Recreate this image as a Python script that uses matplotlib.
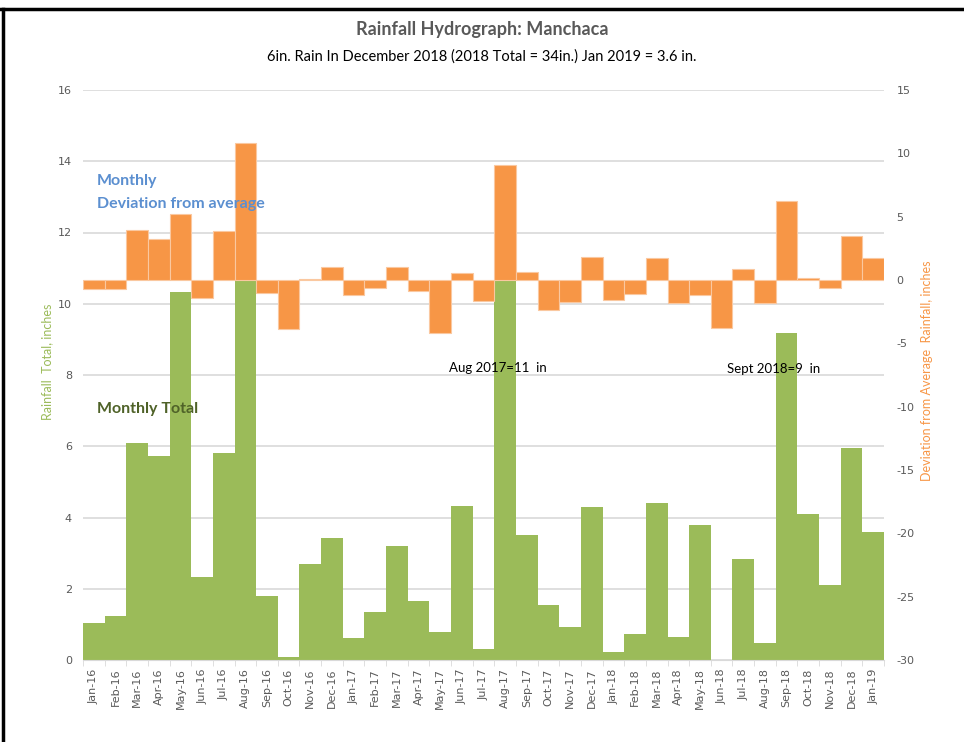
import matplotlib
matplotlib.use("Agg")
import matplotlib.pyplot as plt
import numpy as np
from matplotlib.lines import Line2D

plt.rcParams["axes.unicode_minus"] = False

# monthly values, Jan-16 .. Jan-19
months = ["Jan-16", "Feb-16", "Mar-16", "Apr-16", "May-16", "Jun-16", "Jul-16", "Aug-16",
          "Sep-16", "Oct-16", "Nov-16", "Dec-16", "Jan-17", "Feb-17", "Mar-17", "Apr-17",
          "May-17", "Jun-17", "Jul-17", "Aug-17", "Sep-17", "Oct-17", "Nov-17", "Dec-17",
          "Jan-18", "Feb-18", "Mar-18", "Apr-18", "May-18", "Jun-18", "Jul-18", "Aug-18",
          "Sep-18", "Oct-18", "Nov-18", "Dec-18", "Jan-19"]

monthly_total = [1.04, 1.24, 6.1, 5.73, 10.34, 2.33, 5.81, 13.1,
                 1.8, 0.08, 2.7, 3.43, 0.62, 1.35, 3.2, 1.66,
                 0.79, 4.33, 0.3, 11.3, 3.51, 1.54, 0.93, 4.3,
                 0.22, 0.73, 4.41, 0.65, 3.79, 0.0, 2.84, 0.48,
                 9.18, 4.1, 2.1, 5.95, 3.6]

deviation = [-0.74, -0.68, 3.95, 3.24, 5.2, -1.4, 3.9, 10.8,
             -1.02, -3.87, 0.1, 1.05, -1.2, -0.6, 1.05, -0.85,
             -4.2, 0.53, -1.65, 9.1, 0.63, -2.37, -1.74, 1.85,
             -1.55, -1.1, 1.7, -1.84, -1.2, -3.77, 0.85, -1.84,
             6.2, 0.18, -0.6, 3.5, 1.7]

GREEN = "#9BBB59"
ORANGE = "#F79646"
GRAY = "#595959"
CAL = ["Lato", "DejaVu Sans"]

fig = plt.figure(figsize=(9.64, 7.42), dpi=100)
ax = fig.add_axes([83 / 964, 1 - 660 / 742, (884 - 83) / 964, (660 - 90) / 742])
ax2 = ax.twinx()

x = np.arange(len(months))
ax.bar(x, monthly_total, width=1.0, color=GREEN, zorder=2)
ax2.bar(x, deviation, width=1.0, color=ORANGE, edgecolor="#FAC8A0", linewidth=0.8, zorder=2)

ax.set_xlim(-0.5, len(months) - 0.5)
ax.set_ylim(0, 16)
ax.set_yticks(np.arange(0, 17, 2))
ax2.set_ylim(-30, 15)
ax2.set_yticks(np.arange(-30, 16, 5))

ax.grid(axis="y", color="#D9D9D9", linewidth=1.2)
ax.set_axisbelow(True)

ax.set_xticks(x)
ax.set_xticklabels(months, rotation=90)
ax.set_xticks(np.arange(-0.5, len(months), 1), minor=True)
ax.tick_params(axis="x", which="major", length=0, pad=6, labelsize=8, labelcolor=GRAY)
ax.tick_params(axis="x", which="minor", length=4, color="#D9D9D9")
ax.tick_params(axis="y", length=0, pad=8, labelsize=8, labelcolor=GRAY)
ax2.tick_params(axis="y", length=0, pad=9, labelsize=8, labelcolor=GRAY)

for a in (ax, ax2):
    for s in ("top", "left", "right"):
        a.spines[s].set_visible(False)
ax.spines["bottom"].set_color("#D9D9D9")
ax2.spines["bottom"].set_visible(False)

ax.set_ylabel("Rainfall  Total, inches", color=GREEN, fontsize=9, family=CAL)
ax.yaxis.set_label_coords(-0.037, 0.523)
ax2.set_ylabel("Deviation from Average  Rainfall, inches", color=ORANGE, fontsize=9,
               family=CAL)
ax2.yaxis.set_label_coords(1.046, 0.507)

fig.text(0.5, 1 - 30 / 742, "Rainfall Hydrograph: Manchaca", ha="center", va="center",
         fontsize=13, fontweight="bold", color=GRAY, family=CAL)
fig.text(0.5, 1 - 57 / 742, "6in. Rain In December 2018 (2018 Total = 34in.) Jan 2019 = 3.6 in.",
         ha="center", va="center", fontsize=10.5, color="black", family=CAL)

fig.text(97 / 964, 1 - 181 / 742, "Monthly", ha="left", va="center", fontsize=11.5,
         fontweight="bold", color="#5B8FD0", family=CAL)
fig.text(97 / 964, 1 - 204 / 742, "Deviation from average", ha="left", va="center",
         fontsize=11.5, fontweight="bold", color="#5B8FD0", family=CAL)
fig.text(97 / 964, 1 - 409 / 742, "Monthly Total", ha="left", va="center", fontsize=11.5,
         fontweight="bold", color="#4F6228", family=CAL)

fig.text(449 / 964, 1 - 368 / 742, "Aug 2017=11  in", ha="left", va="center", fontsize=9.5,
         color="black", family=CAL)
fig.text(727 / 964, 1 - 369 / 742, "Sept 2018=9  in", ha="left", va="center", fontsize=9.5,
         color="black", family=CAL)

# frame lines top and left
fig.add_artist(Line2D([0, 1], [1 - 9 / 742, 1 - 9 / 742], transform=fig.transFigure,
                      color="black", linewidth=2.5))
fig.add_artist(Line2D([3 / 964, 3 / 964], [0, 1 - 9 / 742], transform=fig.transFigure,
                      color="black", linewidth=2.5))

fig.savefig("out.png", dpi=100)
